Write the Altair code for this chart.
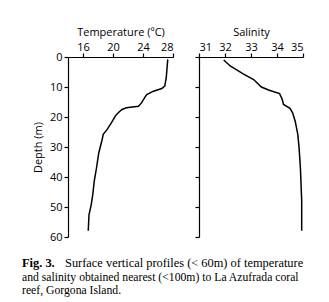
import altair as alt
import pandas as pd

temp_depth = [0.8, 6.9, 9.7, 10.5, 11.4, 12.5, 13.6, 15.3, 16.4, 16.9, 17.5, 18.6, 19.7,
              21.9, 24.2, 25.8, 28.1, 32, 37, 41.4, 45.9, 49.2, 52.6, 57.9]
temp_values = [27.3, 27.1, 26.9, 26.5, 25.4, 24.5, 24.2, 23.8, 23.4, 21.8, 21.2, 20.7, 20.3,
               19.8, 19.2, 18.7, 18.5, 18.1, 17.8, 17.5, 17.3, 17.1, 16.8, 16.7]

sal_depth = [1.0, 3, 5.6, 7.5, 10, 11.1, 12.2, 14.1, 15.8, 17.1, 18.6, 21.4, 25.8, 30.3, 37, 48, 57.9]
sal_values = [31.95, 32.2, 32.7, 33.1, 33.4, 33.7, 34.1, 34.2, 34.25, 34.5, 34.6, 34.7, 34.8,
              34.85, 34.9, 34.95, 34.95]

temp_ticks = [16, 20, 24, 28]
sal_ticks = [31, 32, 33, 34, 35]
depth_ticks = [0, 10, 20, 30, 40, 50, 60]

caption_bold = "Fig. 3."
caption_lines = [
    "Surface vertical profiles (< 60m) of temperature",
    "and salinity obtained nearest (<100m) to La Azufrada coral",
    "reef, Gorgona Island.",
]

FONT = "Open Sans"

temp_df = pd.DataFrame({"depth": temp_depth, "value": temp_values})
sal_df = pd.DataFrame({"depth": sal_depth, "value": sal_values})

axis_common = dict(
    domainColor="black", tickColor="black", labelColor="black", titleColor="black",
    labelFont=FONT, titleFont=FONT, labelFontSize=11, titleFontSize=11,
    titleFontWeight="normal", grid=False, tickSize=4, domainWidth=1.2, tickWidth=1.2,
)

y_scale = alt.Scale(domain=[0, 60], reverse=True, nice=False)

left = alt.Chart(temp_df).mark_line(color="black", strokeWidth=1.5).encode(
    x=alt.X("value:Q", scale=alt.Scale(domain=[14, 28], nice=False),
            axis=alt.Axis(orient="top", values=temp_ticks, title="Temperature (ºC)",
                          titlePadding=4, labelPadding=1, **axis_common)),
    y=alt.Y("depth:Q", scale=y_scale,
            axis=alt.Axis(values=depth_ticks, title="Depth (m)", titlePadding=6,
                          labelPadding=2, **axis_common)),
    order="depth:Q",
).properties(width=105, height=180)

right = alt.Chart(sal_df).mark_line(color="black", strokeWidth=1.5).encode(
    x=alt.X("value:Q", scale=alt.Scale(domain=[31, 35], nice=False),
            axis=alt.Axis(orient="top", values=sal_ticks, title="Salinity",
                          titlePadding=4, labelPadding=1, **axis_common)),
    y=alt.Y("depth:Q", scale=y_scale,
            axis=alt.Axis(values=depth_ticks, title=None, labels=False, **axis_common)),
    order="depth:Q",
).properties(width=104, height=180)

cap_df = pd.DataFrame({"dummy": [0]})
SERIF = "Liberation Serif"
CX = -46
cap_base = alt.Chart(cap_df)
cap_layers = [
    cap_base.mark_text(align="left", baseline="middle", font=SERIF, fontSize=12.4,
                       fontWeight="bold", color="black").encode(
        x=alt.value(CX), y=alt.value(6), text=alt.value(caption_bold)),
    cap_base.mark_text(align="left", baseline="middle", font=SERIF, fontSize=12.4,
                       color="black").encode(
        x=alt.value(CX + 43), y=alt.value(6), text=alt.value(caption_lines[0])),
    cap_base.mark_text(align="left", baseline="middle", font=SERIF, fontSize=11.7,
                       color="black").encode(
        x=alt.value(CX), y=alt.value(19.5), text=alt.value(caption_lines[1])),
    cap_base.mark_text(align="left", baseline="middle", font=SERIF, fontSize=11.7,
                       color="black").encode(
        x=alt.value(CX), y=alt.value(33), text=alt.value(caption_lines[2])),
]
caption = alt.layer(*cap_layers).properties(width=200, height=40)

top = alt.hconcat(left, right, spacing=20)
chart = alt.vconcat(top, caption, spacing=15).configure_view(stroke=None).properties(
    background="white", padding={"left": 14, "top": 18, "right": 5, "bottom": 2}
)

chart.save("out.html", embed_options={"renderer": "svg", "actions": False})
